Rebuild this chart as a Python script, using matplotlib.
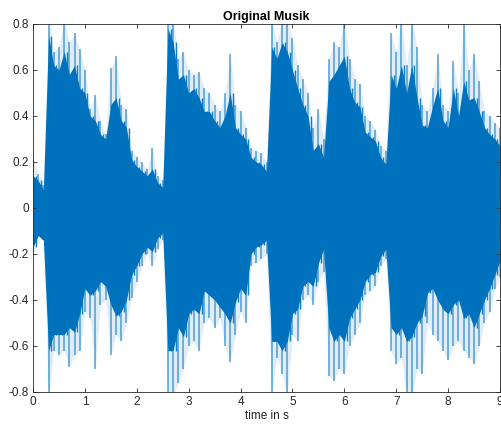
import numpy as np
import matplotlib
matplotlib.use("Agg")
import matplotlib.pyplot as plt

# time grid (s) and envelopes
time_s = np.round(np.arange(0, 9.01, 0.1), 2)

upper_core = [0.14, 0.12, 0.08, 0.75, 0.62, 0.60, 0.68, 0.58, 0.62, 0.52,
              0.50, 0.40, 0.38, 0.32, 0.30, 0.45, 0.48, 0.38, 0.35, 0.21,
              0.18, 0.16, 0.14, 0.17, 0.11, 0.09, 0.78, 0.72, 0.56, 0.58,
              0.50, 0.52, 0.48, 0.42, 0.42, 0.38, 0.35, 0.40, 0.50, 0.35,
              0.32, 0.30, 0.22, 0.20, 0.19, 0.16, 0.70, 0.65, 0.72, 0.68,
              0.60, 0.52, 0.45, 0.40, 0.25, 0.28, 0.22, 0.55, 0.58, 0.62,
              0.66, 0.52, 0.46, 0.44, 0.33, 0.31, 0.29, 0.22, 0.19, 0.58,
              0.52, 0.62, 0.50, 0.62, 0.48, 0.36, 0.35, 0.44, 0.52, 0.38,
              0.35, 0.52, 0.40, 0.55, 0.47, 0.48, 0.42, 0.35, 0.32, 0.30,
              0.27]

upper_peak = [0.22, 0.15, 0.10, 0.82, 0.68, 0.70, 0.82, 0.72, 0.76, 0.69,
              0.60, 0.43, 0.49, 0.38, 0.32, 0.61, 0.66, 0.45, 0.43, 0.25,
              0.22, 0.20, 0.17, 0.26, 0.14, 0.12, 0.82, 0.82, 0.65, 0.68,
              0.60, 0.58, 0.59, 0.52, 0.50, 0.45, 0.42, 0.50, 0.67, 0.45,
              0.42, 0.35, 0.26, 0.25, 0.24, 0.20, 0.82, 0.72, 0.82, 0.82,
              0.74, 0.62, 0.56, 0.50, 0.35, 0.43, 0.30, 0.65, 0.72, 0.70,
              0.82, 0.65, 0.56, 0.54, 0.40, 0.38, 0.34, 0.27, 0.25, 0.76,
              0.68, 0.82, 0.62, 0.82, 0.70, 0.45, 0.42, 0.52, 0.67, 0.45,
              0.42, 0.64, 0.50, 0.82, 0.60, 0.67, 0.55, 0.42, 0.40, 0.37,
              0.35]

lower_core = [-0.17, -0.12, -0.14, -0.62, -0.55, -0.55, -0.55, -0.52, -0.54, -0.46,
              -0.35, -0.38, -0.36, -0.32, -0.34, -0.42, -0.47, -0.45, -0.40, -0.29,
              -0.25, -0.20, -0.17, -0.19, -0.13, -0.11, -0.62, -0.62, -0.52, -0.56,
              -0.46, -0.44, -0.46, -0.36, -0.38, -0.40, -0.43, -0.46, -0.50, -0.41,
              -0.35, -0.38, -0.20, -0.17, -0.16, -0.14, -0.58, -0.58, -0.62, -0.58,
              -0.46, -0.44, -0.34, -0.32, -0.34, -0.24, -0.18, -0.52, -0.58, -0.55,
              -0.58, -0.48, -0.44, -0.40, -0.32, -0.29, -0.28, -0.21, -0.18, -0.52,
              -0.55, -0.52, -0.58, -0.56, -0.50, -0.47, -0.37, -0.35, -0.40, -0.44,
              -0.46, -0.42, -0.40, -0.48, -0.46, -0.52, -0.46, -0.40, -0.35, -0.29,
              -0.23]

lower_peak = [-0.20, -0.11, -0.14, -0.82, -0.62, -0.64, -0.62, -0.69, -0.64, -0.62,
              -0.45, -0.48, -0.70, -0.42, -0.40, -0.64, -0.55, -0.58, -0.50, -0.39,
              -0.32, -0.25, -0.20, -0.25, -0.18, -0.14, -0.82, -0.82, -0.76, -0.70,
              -0.60, -0.58, -0.62, -0.50, -0.48, -0.52, -0.48, -0.60, -0.67, -0.55,
              -0.45, -0.50, -0.25, -0.24, -0.22, -0.20, -0.82, -0.65, -0.72, -0.82,
              -0.55, -0.58, -0.40, -0.38, -0.42, -0.32, -0.28, -0.73, -0.75, -0.70,
              -0.72, -0.60, -0.55, -0.50, -0.38, -0.36, -0.34, -0.25, -0.22, -0.62,
              -0.68, -0.65, -0.82, -0.82, -0.70, -0.72, -0.50, -0.55, -0.58, -0.62,
              -0.66, -0.60, -0.58, -0.62, -0.65, -0.68, -0.60, -0.50, -0.45, -0.35,
              -0.30]

x_ticks = [0, 1, 2, 3, 4, 5, 6, 7, 8, 9]
y_ticks = [-0.8, -0.6, -0.4, -0.2, 0, 0.2, 0.4, 0.6, 0.8]
y_tick_labels = ["-0.8", "-0.6", "-0.4", "-0.2", "0", "0.2", "0.4", "0.6", "0.8"]

plt.rcParams['font.family'] = ['Liberation Sans', 'DejaVu Sans']

W, H = 501, 429
fig = plt.figure(figsize=(W / 100, H / 100), dpi=100)
ax = fig.add_axes([33 / W, 1 - 392 / H, (500 - 33) / W, (392 - 24) / H])

blue = '#0072BD'
ax.fill_between(time_s, lower_peak, upper_peak, color=blue, lw=0, alpha=0.12)
ax.fill_between(time_s, lower_core, upper_core, color=blue, lw=0)
ax.vlines(time_s, lower_peak, upper_peak, color=blue, lw=1.2, alpha=0.6)
ax.vlines(time_s + 0.05, lower_core, upper_core, color=blue, lw=1.0, alpha=0.9)

ax.set_xlim(0, 9)
ax.set_ylim(-0.8, 0.8)
ax.set_xticks(x_ticks)
ax.set_yticks(y_ticks)
ax.set_yticklabels(y_tick_labels)
ax.tick_params(direction='in', length=3, width=0.6, colors='#262626',
               labelsize=8.5, top=True, right=True, pad=3)
for s in ax.spines.values():
    s.set_linewidth(0.6)
    s.set_color('#262626')

ax.set_title('Original Musik', fontsize=9, fontweight='bold', pad=3)
ax.set_xlabel('time in s', fontsize=8.5, color='#262626', labelpad=1)

fig.savefig('out.png', dpi=100)
